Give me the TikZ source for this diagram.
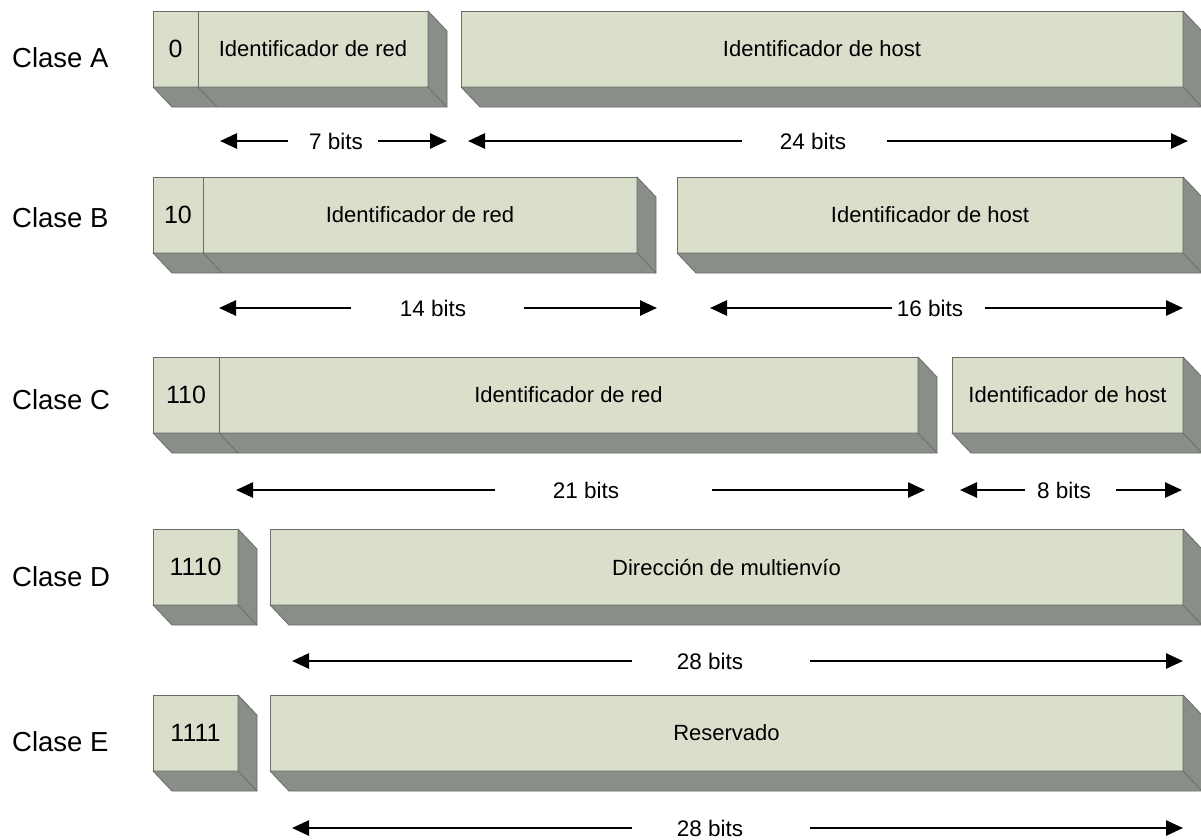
\documentclass[tikz,border=0pt]{standalone}
\usepackage{fontspec}
\setmainfont{Liberation Sans}
\usetikzlibrary{arrows.meta}

\definecolor{facefill}{RGB}{217,223,203}
\definecolor{sidefill}{RGB}{137,142,136}
\definecolor{edgegray}{RGB}{105,110,103}

% extruded bottom and right faces under a row of front faces
% #1 = leftmost front node, #2 = rightmost front node
\newcommand\extrude[2]{%
  \filldraw[sideface] (#1.south west) -- (#2.south east) -- (#2.north east)
    -- ++(19,20) -- ++(0,76) -- ([shift={(19,20)}]#1.south west) -- cycle;
  \draw[sideedge] (#2.south east) -- ++(19,20);
}

\begin{document}
\begin{tikzpicture}[x=1pt,y=-1pt,
  face/.style={draw=edgegray, line width=0.8pt, fill=facefill, minimum height=76pt,
    inner sep=0pt, outer sep=0pt, anchor=north west, font=\fontsize{22}{26}\selectfont},
  prefixbox/.style={face, font=\fontsize{25}{30}\selectfont},
  sideface/.style={fill=sidefill, draw=edgegray, line width=0.8pt, line join=round},
  sideedge/.style={draw=edgegray, line width=0.8pt},
  bits/.style={font=\fontsize{22.5}{26}\selectfont, inner sep=0pt},
  classlbl/.style={font=\fontsize{27.5}{32}\selectfont, anchor=west, inner sep=0pt},
  dim/.style={line width=2.6pt, -{Triangle[length=17pt,width=15pt]}}]

\useasboundingbox[fill=white] (0,0) rectangle (1201,839);

% ---------- class labels ----------
\node[classlbl] (lblA) at (12,58)  {Clase A};
\node[classlbl] (lblB) at (12,218) {Clase B};
\node[classlbl] (lblC) at (12,400) {Clase C};
\node[classlbl] (lblD) at (12,577) {Clase D};
\node[classlbl] (lblE) at (12,742) {Clase E};

% ---------- Clase A ----------
\node[prefixbox, minimum width=45pt] (a0)    at (153,11) {0};
\node[face, minimum width=230pt]     (anet)  at (198,11) {Identificador de red};
\node[face, minimum width=722pt]     (ahost) at (461,11) {Identificador de host};
\extrude{a0}{anet}
\draw[sideedge] (a0.south east) -- ++(19,20);
\extrude{ahost}{ahost}

\node[bits] (tA1) at (336,141) {7 bits};
\coordinate (lA1) at (220,141);
\coordinate (rA1) at (447,141);
\draw[dim] ([xshift=-21pt]tA1.west) -- (lA1);
\draw[dim] ([xshift=15pt]tA1.east) -- (rA1);

\node[bits] (tA2) at (813,141) {24 bits};
\coordinate (lA2) at (468,141);
\coordinate (rA2) at (1188,141);
\draw[dim] ([xshift=-38pt]tA2.west) -- (lA2);
\draw[dim] ([xshift=41pt]tA2.east) -- (rA2);

% ---------- Clase B ----------
\node[prefixbox, minimum width=50pt] (b0)    at (153,177) {10};
\node[face, minimum width=434pt]     (bnet)  at (203,177) {Identificador de red};
\node[face, minimum width=506pt]     (bhost) at (677,177) {Identificador de host};
\extrude{b0}{bnet}
\draw[sideedge] (b0.south east) -- ++(19,20);
\extrude{bhost}{bhost}

\node[bits] (tB1) at (433,308) {14 bits};
\coordinate (lB1) at (219,308);
\coordinate (rB1) at (657,308);
\draw[dim] ([xshift=-49pt]tB1.west) -- (lB1);
\draw[dim] ([xshift=58pt]tB1.east) -- (rB1);

\node[bits] (tB2) at (930,308) {16 bits};
\coordinate (lB2) at (710,308);
\coordinate (rB2) at (1183,308);
\draw[dim] ([xshift=-5pt]tB2.west) -- (lB2);
\draw[dim] ([xshift=22pt]tB2.east) -- (rB2);

% ---------- Clase C ----------
\node[prefixbox, minimum width=66pt] (c0)    at (153,357) {110};
\node[face, minimum width=699pt]     (cnet)  at (219,357) {Identificador de red};
\node[face, minimum width=231pt]     (chost) at (952,357) {Identificador de host};
\extrude{c0}{cnet}
\draw[sideedge] (c0.south east) -- ++(19,20);
\extrude{chost}{chost}

\node[bits] (tC1) at (586,490) {21 bits};
\coordinate (lC1) at (236,490);
\coordinate (rC1) at (925,490);
\draw[dim] ([xshift=-58pt]tC1.west) -- (lC1);
\draw[dim] ([xshift=93pt]tC1.east) -- (rC1);

\node[bits] (tC2) at (1064,490) {8 bits};
\coordinate (lC2) at (960,490);
\coordinate (rC2) at (1182,490);
\draw[dim] ([xshift=-12pt]tC2.west) -- (lC2);
\draw[dim] ([xshift=25pt]tC2.east) -- (rC2);

% ---------- Clase D ----------
\node[prefixbox, minimum width=85pt] (d0)  at (153,529) {1110};
\node[face, minimum width=913pt]     (dmc) at (270,529) {Dirección de multienvío};
\extrude{d0}{d0}
\extrude{dmc}{dmc}

\node[bits] (tD) at (710,661) {28 bits};
\coordinate (lD) at (292,661);
\coordinate (rD) at (1183,661);
\draw[dim] ([xshift=-45pt]tD.west) -- (lD);
\draw[dim] ([xshift=67pt]tD.east) -- (rD);

% ---------- Clase E ----------
\node[prefixbox, minimum width=85pt] (e0)   at (153,695) {1111};
\node[face, minimum width=913pt]     (eres) at (270,695) {Reservado};
\extrude{e0}{e0}
\extrude{eres}{eres}

\node[bits] (tE) at (710,828) {28 bits};
\coordinate (lE) at (292,828);
\coordinate (rE) at (1183,828);
\draw[dim] ([xshift=-45pt]tE.west) -- (lE);
\draw[dim] ([xshift=67pt]tE.east) -- (rE);

\end{tikzpicture}
\end{document}
